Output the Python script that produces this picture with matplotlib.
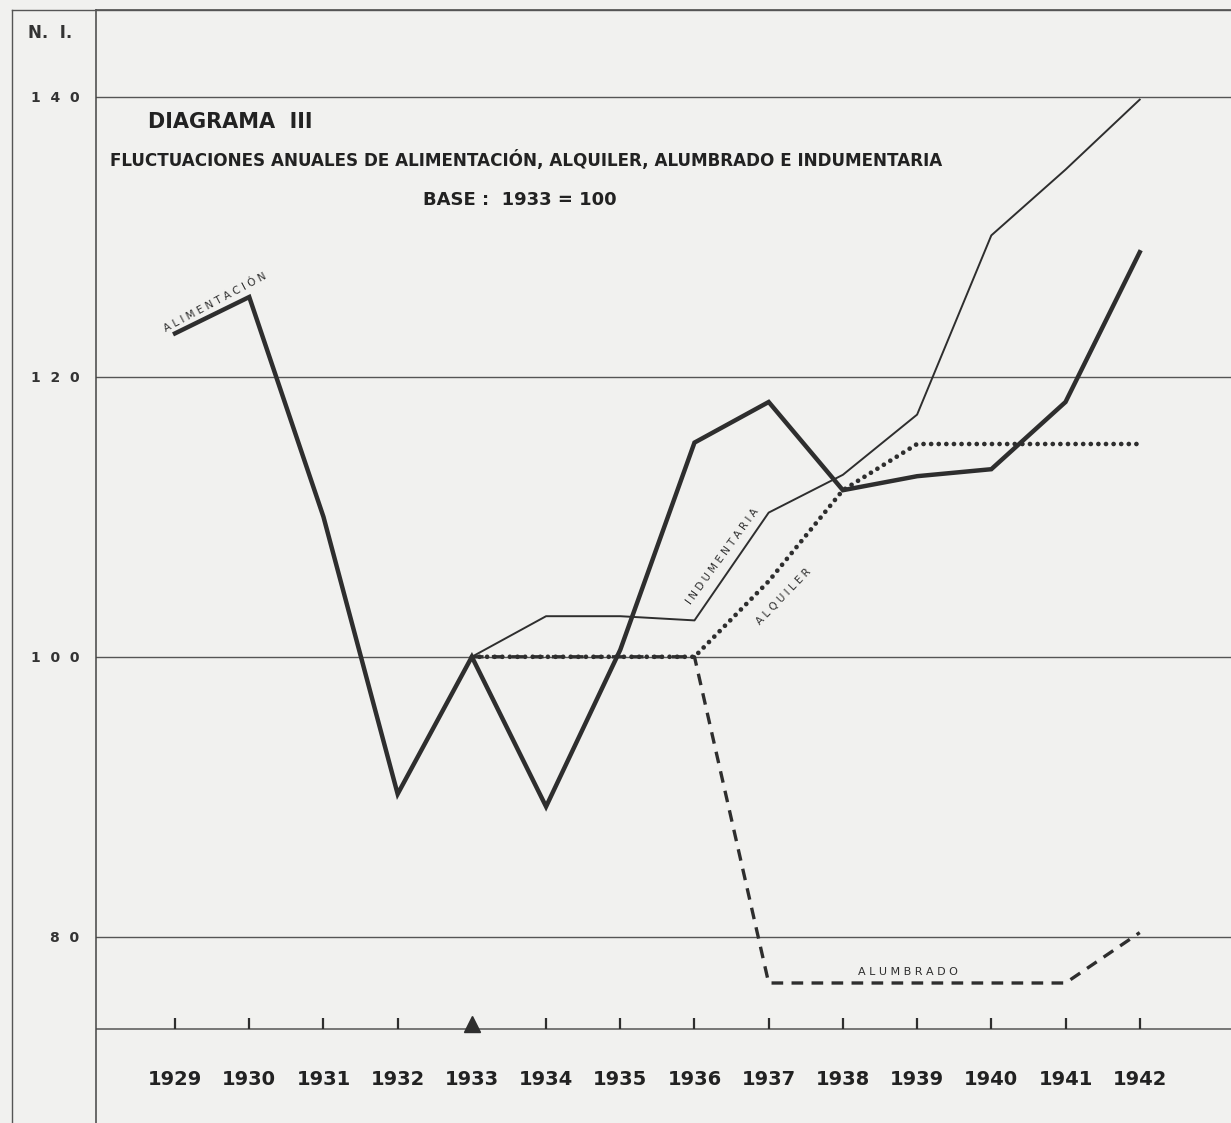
import matplotlib.pyplot as plt
from matplotlib.lines import Line2D

# --- data (N.I., base 1933 = 100) ---
years = list(range(1929, 1943))
alimentacion = [123.1, 125.7, 110.0, 90.2, 100.0, 89.3, 100.5, 115.3, 118.2, 111.9, 112.9, 113.4, 118.2, 128.9]

years_b = list(range(1933, 1943))
indumentaria = [100.0, 102.9, 102.9, 102.6, 110.3, 113.0, 117.3, 130.1, 134.8, 139.8]
alquiler = [100.0, 100.0, 100.0, 100.0, 105.4, 111.9, 115.2, 115.2, 115.2, 115.2]
alumbrado = [100.0, 100.0, 100.0, 100.0, 76.7, 76.7, 76.7, 76.7, 76.7, 80.3]

yticks = [80, 100, 120, 140]
ytick_labels = ["8  0", "1  0  0", "1  2  0", "1  4  0"]
base_year = 1933

W, H = 1231, 1123
paper = "#f1f1ef"
ink = "#2e2e2e"

fig = plt.figure(figsize=(W / 100, H / 100), dpi=100, facecolor=paper)
ax = fig.add_axes([96 / W, 0, (W - 96) / W, (H - 10) / H])
ax.set_facecolor(paper)
ax.set_xlim(1927.935, 1943.23)
ax.set_ylim(66.7, 146.2)

for s in ["right", "bottom"]:
    ax.spines[s].set_visible(False)
for s in ["left", "top"]:
    ax.spines[s].set_color("#444444")
    ax.spines[s].set_linewidth(1.1)

# outer frame of the page
fig.add_artist(Line2D([12 / W, 12 / W], [0, 1 - 10 / H], color="#555555", lw=1.0))
fig.add_artist(Line2D([12 / W, 1], [1 - 10 / H, 1 - 10 / H], color="#555555", lw=1.0))

# horizontal rules
for v in yticks:
    ax.axhline(v, color="#555555", lw=1.0, zorder=1)
base = 73.4
ax.axhline(base, color="#555555", lw=1.1, zorder=1)

ax.set_yticks(yticks)
ax.set_yticklabels(ytick_labels, fontsize=10, fontweight="bold", color="#333333")
ax.tick_params(axis="y", length=0, pad=12)
ax.set_xticks([])

# year ticks on the base line
ax.vlines([y for y in years if y != base_year], base, base + 0.8, color=ink, lw=1.6)
ax.plot([base_year], [base + 0.35], marker="^", ms=11, color=ink, zorder=4)
for y in years:
    ax.text(y, 69.8, str(y), ha="center", va="center", fontsize=14, fontweight="bold",
            color="#222222")

# series
ax.plot(years, alimentacion, color=ink, lw=3.2, solid_joinstyle="miter", zorder=3)
ax.plot(years_b, indumentaria, color=ink, lw=1.4, zorder=3)
ax.plot(years_b, alquiler, color=ink, lw=3.4, linestyle=(0, (0.01, 1.6)),
        dash_capstyle="round", zorder=3)
ax.plot(years_b, alumbrado, color=ink, lw=2.4, linestyle=(0, (3.5, 2.5)), zorder=3)

# line labels
ax.text(1929.54, 125.3, "A L I M E N T A C I Ó N", rotation=28, rotation_mode="anchor",
        ha="center", va="center", fontsize=7.5, color=ink)
ax.text(1936.38, 107.2, "I N D U M E N T A R I A", rotation=54, rotation_mode="anchor",
        ha="center", va="center", fontsize=7.5, color=ink)
ax.text(1937.2, 104.3, "A L Q U I L E R", rotation=46, rotation_mode="anchor",
        ha="center", va="center", fontsize=7.5, color=ink)
ax.text(1938.88, 77.5, "A L U M B R A D O", ha="center", va="center", fontsize=8, color=ink)

# titles
fig.text(28 / W, 1 - 33 / H, "N.  I.", ha="left", va="center", fontsize=12,
         fontweight="bold", color="#333333")
fig.text(148 / W, 1 - 122 / H, "DIAGRAMA  III", ha="left", va="center", fontsize=15,
         fontweight="bold", color="#222222")
fig.text(110 / W, 1 - 160 / H,
         "FLUCTUACIONES ANUALES DE ALIMENTACIÓN, ALQUILER, ALUMBRADO E INDUMENTARIA",
         ha="left", va="center", fontsize=12.1, fontweight="bold", color="#222222")
fig.text(520 / W, 1 - 200 / H, "BASE :  1933 = 100", ha="center", va="center",
         fontsize=13, fontweight="bold", color="#222222")

fig.savefig("out.png", dpi=100, facecolor=paper)
